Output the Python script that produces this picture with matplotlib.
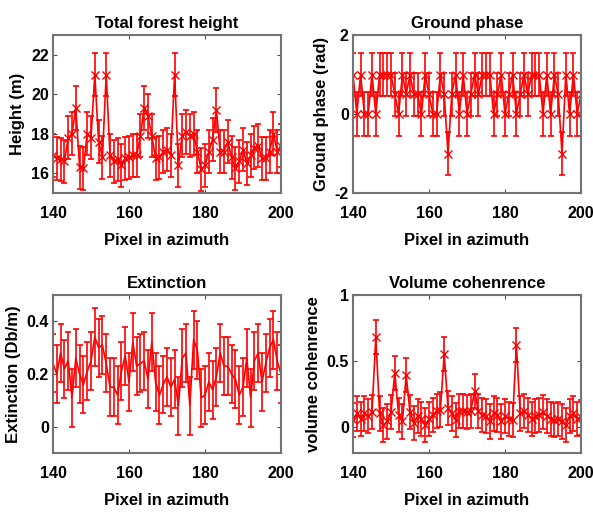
import matplotlib
matplotlib.use("Agg")
import matplotlib.pyplot as plt
import numpy as np

plt.rcParams['font.family'] = ['Liberation Sans', 'DejaVu Sans']
plt.rcParams['font.weight'] = 'bold'

pixels = list(range(140, 201))

height = [16.9, 16.75, 16.7, 16.6, 17.8, 18.0, 19.3, 16.3, 16.25, 18.0,
          17.8, 21.0, 17.6, 16.8, 21.0, 16.9, 16.6, 16.7, 16.4, 16.75,
          16.8, 16.9, 16.9, 17.9, 19.3, 18.9, 17.9, 16.75, 16.8, 17.1,
          17.2, 16.9, 21.0, 16.4, 17.9, 18.1, 17.9, 18.0, 17.1, 16.2,
          16.4, 17.1, 17.7, 19.2, 17.1, 17.1, 17.6, 16.8, 16.25, 16.6,
          17.2, 16.5, 16.9, 17.3, 17.4, 16.75, 16.75, 17.1, 18.0, 17.1,
          17.4]
height_err = 1.1

phase = [1, 0, 1, 0, 0, 1, 0, 1, 1, 1,
         1, 0.5, 0, 1, 0.5, 1, 0.5, 0.5, 0, 1,
         0.5, 0, 0, 1, 0.5, -1, 0.5, 1, 0, 1,
         0, 0.5, 1, 0.5, 1, 1, 1, 0, 0.5, 1,
         0, 0.5, 1, 0, 0.5, 1, 0.5, 1, 1, 1,
         0, 1, 0, 1, 0.5, -1, 1, 0, 1, 0,
         0.5]
phase_err = 0.55

extinction = [0.24, 0.20, 0.28, 0.22, 0.25, 0.11, 0.26, 0.20, 0.16, 0.21,
              0.25, 0.34, 0.30, 0.31, 0.24, 0.15, 0.15, 0.12, 0.21, 0.27,
              0.17, 0.32, 0.23, 0.24, 0.25, 0.18, 0.32, 0.17, 0.12, 0.16,
              0.19, 0.15, 0.18, 0.08, 0.26, 0.28, 0.08, 0.33, 0.29, 0.11,
              0.12, 0.17, 0.14, 0.19, 0.28, 0.23, 0.23, 0.20, 0.18, 0.12,
              0.15, 0.26, 0.11, 0.25, 0.28, 0.17, 0.24, 0.30, 0.33, 0.25,
              0.20]
extinction_err = 0.11

coherence = [0.05, 0.10, 0.06, 0.10, 0.08, 0.11, 0.68, 0.10, 0.01, 0.04,
             0.11, 0.41, 0.09, 0.04, 0.39, 0.11, 0.03, 0.08, 0.06, 0.01,
             0.06, 0.09, 0.12, 0.13, 0.55, 0.14, 0.10, 0.05, 0.12, 0.12,
             0.11, 0.12, 0.27, 0.12, 0.09, 0.08, 0.04, 0.10, 0.09, 0.04,
             0.08, 0.06, 0.05, 0.62, 0.10, 0.12, 0.09, 0.06, 0.08, 0.09,
             0.11, 0.08, 0.06, 0.05, 0.06, 0.04, 0.01, 0.08, 0.10, 0.06,
             0.07]
coherence_err = 0.13

panels = [
    ("Total forest height", "Height (m)", height, height_err, 'x', (15, 23), [16, 18, 20, 22], ['16', '18', '20', '22']),
    ("Ground phase", "Ground phase (rad)", phase, phase_err, 'x', (-2, 2), [-2, 0, 2], ['-2', '0', '2']),
    ("Extinction", "Extinction (Db/m)", extinction, extinction_err, None, (-0.1, 0.5), [0, 0.2, 0.4], ['0', '0.2', '0.4']),
    ("Volume cohenrence", "volume cohenrence", coherence, coherence_err, 'x', (-0.2, 1), [0, 0.5, 1], ['0', '0.5', '1']),
]

W, H = 593, 514
positions = [(53, 35), (353, 35), (53, 295), (353, 295)]
aw, ah = 228, 158

fig = plt.figure(figsize=(W / 100, H / 100), dpi=100)

for (title, ylab, vals, err, mk, ylim, yt, ytl), (px, py) in zip(panels, positions):
    ax = fig.add_axes([px / W, 1 - (py + ah) / H, aw / W, ah / H])
    ax.errorbar(pixels, vals, yerr=err, color='red', marker=mk, markersize=5.5,
                linewidth=1.2, elinewidth=1.2, capsize=2, capthick=1.2)
    ax.set_xlim(140, 200)
    ax.set_ylim(*ylim)
    ax.set_xticks([140, 160, 180, 200])
    ax.set_yticks(yt)
    ax.set_yticklabels(ytl)
    ax.tick_params(direction='in', top=True, right=True, length=3, color='0.3')
    ax.tick_params(axis='x', labelsize=11.5, pad=9)
    ax.tick_params(axis='y', labelsize=11.5, pad=3)
    for s in ax.spines.values():
        s.set_color('0.45')
        s.set_linewidth(1.5)
    ax.set_title(title, fontsize=12, fontweight='bold', pad=5)
    ax.set_xlabel("Pixel in azimuth", fontsize=12, fontweight='bold', labelpad=9)
    ax.set_ylabel(ylab, fontsize=12, fontweight='bold', labelpad=4)
    for lbl in ax.get_xticklabels() + ax.get_yticklabels():
        lbl.set_fontweight('bold')

fig.savefig("out.png", dpi=100)
